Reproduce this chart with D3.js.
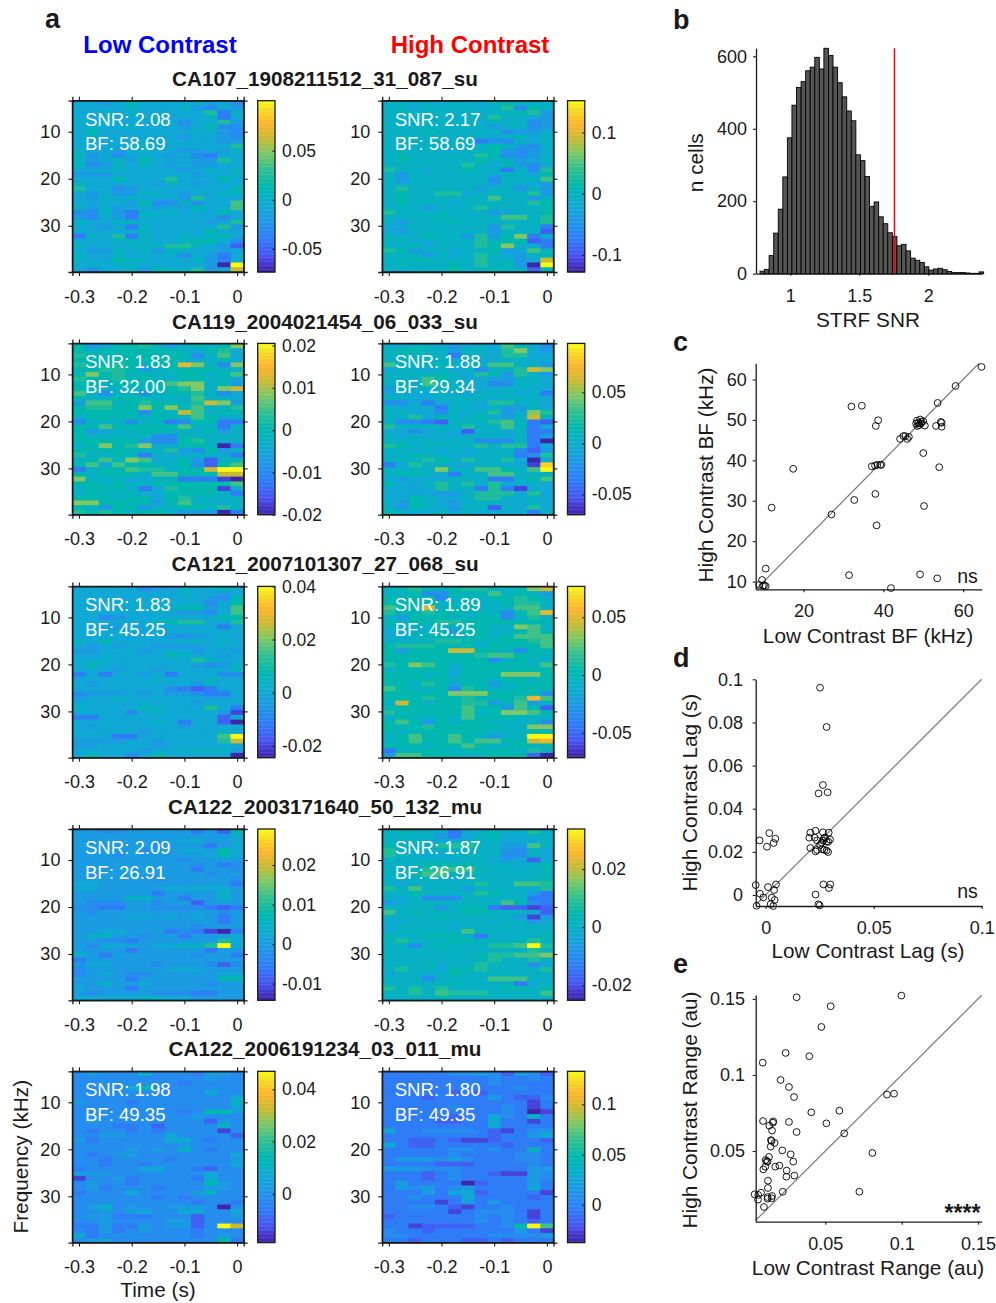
<!DOCTYPE html>
<html>
<head>
<meta charset="utf-8">
<script src="https://cdn.jsdelivr.net/npm/d3@7"></script>
<style>
  body { margin: 0; background: #fff; }
  svg { display: block; }
  text { font-family: "Liberation Sans", Arial, sans-serif; fill: #1a1a1a; }
  .axis path, .axis line { stroke: #1a1a1a; }
</style>
</head>
<body>
<div id="fig"></div>
<script>
    var width = 996,
        height = 1303;

    // STRF cells, one hex digit per cell, looked up in levelPos = position on that panel's colour range
    var levelPos = [0, 0.07, 0.13, 0.2, 0.26, 0.32, 0.38, 0.44, 0.5, 0.56, 0.62, 0.7, 0.78, 0.84, 0.93, 1];
    var strf1Low = ["6656866667564","6666766675465","6676766666937","6666666666736","7676666646695","6766766656844","6866666667654","6766666656654","6666666666655","6666676666669","7665676655657","7564666564366","7567586665596","7457676565566","6667666656767","5556666665667","6668666966686","7666665765666","9664566666668","6565577656677","6576766659666","666658447466a","757566565866a","4475377766686","5465376666646","7667766666569","6656376666695","6666676666866","3769376676786","6667776678864","7666777997652","6557675776656","7667666746536","7668776667536","676776666650f","646675877956c"];
    var strf1High = ["7777677678777","7767777679487","7877777777895","7777777797765","7777777677745","7777777757745","7778777774556","7777777767767","7777777344767","7777777787547","7777767785456","7877777984457","7877777877567","7777779768546","9776778773749","7577777767768","757777774777a","7677777757665","7977777577575","7877996777795","78777777a7757","7877767777798","7775777977778","9777777756778","777787777aa79","7577787777779","6677777759773","6577777757772","7778775958b36","7766777978823","778677798b763","98577677856a7","7775767976578","778877797756c","787778797850f","7677787787728"];
    var strf2Low = ["856889757878b","8788888876896","98888888847a6","8888888876786","98898788db74b","8899857888877","8b8978778878a","9889887788776","8878877abb785","877777889b7bc","a747747889746","877888777a776","5aa7898879cb5","89988b8b8a779","88888487ca788","788887887a867","4777477348833","88a88888a7737","8567788777857","8777774487777","8888854489767","78b89b6688703","8888877954857","9778737667763","78a7ba6785278","8a6a88778428a","3788a99788cff","878887aa888cc","b777667733310","887877888888a","7888736988816","7877766888873","8887886897777","bb888858a7767","8758857788797","9898788755503"];
    var strf2High = ["767765676a864","7887757769b65","7877737769966","7777766667766","a7778767aa775","67767674779cb","7777876985975","777a876655776","776a777644776","5777776667766","6666766777673","7766777767776","4463677699776","7666377675576","77664767956b9","77968778657c7","744327779a732","977777977a836","6646762776733","7676666776735","7777777444730","9877777979936","7767676777425","7787766777349","7779879779606","369776677661e","7777b77aa87af","78876377aa777","656667773378a","8667979696676","6666977393166","6666557999696","6687667997676","7587657776676","7587657727696","8766767666637"];
    var strf3Low = ["6666645576686","6666666676656","6666666666548","6666666666468","666666778856a","666666665546a","6645666666688","6666667899669","6655666666636","6666656666676","6666666545666","7686666677676","6565665555666","5566656665665","6666666876656","6676666669766","6866666665457","6665665666667","3636656366644","6666667666766","6566666665766","6666666432366","4555656554336","5667666666556","6666666665666","7666687666963","6666467666651","3366666666626","6666667636620","6566666656666","6666656666676","66633666666af","555566566669c","5566665666666","6666656677775","6866468666660"];
    var strf3High = ["78987899778bc","77844878a7875","8888478788987","8888778778997","a88c788777aa7","98898877748ad","7588877884797","8788998888888","7777778877ba7","66777588778a8","6678878878aaa","777799878889a","899988878888a","85888cc887488","88888889aa887","8888888847877","98ba87888887a","7888868888888","888786888bbb8","8888878878878","8879868857888","a877849877888","88888bbb88884","88898898889da","7c87889957a57","888888a885a82","988888a78bba8","787787a888777","8a85878877774","88898888877bb","8788888877788","78a88a87577ff","78a88a8aa88cd","888788a877878","3788878888797","5aa8887788820"];
    var strf4Low = ["5544555553528","5555555555556","5555555566556","5555554555356","5555545566586","5554555555686","5555555545555","5555555554534","5555555553554","5455555555455","5555554555554","6655555555553","6655555666665","5555553555575","5555775535575","5444554552555","4433554444323","5455555555545","5555665656535","5555555555535","5555555554555","5566555343103","5775545535556","5544355555596","54666566779f6","5555355555355","7535555554553","3555555555555","5665554555424","4555555666555","4565445555566","5555355555588","5575565555455","6555355555555","5455554443355","6666677665555"];
    var strf4High = ["7877636787797","7777536786677","7776666776667","87779997755a7","9777777775476","9776677774476","7777767765626","7778888777678","7779aaa877778","778aa77777777","7777767777778","7677777977aa9","97a7775777779","7787777987753","7674447777733","567777777a843","7777578832212","a787778877762","7777877777515","6677777767756","6777767777777","677777a777777","8778887376778","7977788777797","7747877799af9","7777777777797","7777777899aab","7777777797797","7778677977746","7977688977779","6776787777777","77747777aaa77","7777787777367","9797977778878","7797a9997777a","7777877777777"];
    var strf5Low = ["4544464443554","4444444444544","4444444434444","4444674444444","4444444444644","4444444444446","5444344444447","4444444444446","4444444434885","4444444445444","4544444444254","4443342444474","4344343444414","4455444644442","5344444664344","4444444454444","4444545474344","4345544444446","4434444344445","4434434444446","3444466443244","5554444444644","1445344443644","4544344444854","4534443444554","3444644445744","4444443434444","4444444443443","4574544555404","4454564466446","4553334442445","4454444552444","33533545524fc","4353454443444","6344444443454","4554444444483"];
    var strf5High = ["3333344542542","3333333343343","3333333343333","3333333333433","3333323233333","3332333353224","3333333333313","3333343334313","3333333334301","3333323364373","3333223363313","3333333363333","6334444321345","3333333323356","3322321123332","6322333332333","3333344343373","3333343333443","3555454333443","3333222333343","5554443333355","3332343321154","3332343333354","3533330233353","3545345333363","3335366233331","3343336333323","3333135353333","3344321334333","3333313444313","2333333434313","3333333434323","33122223348fa","4332333333531","4433333344445","3323332232333"];

    var unitNames = ["CA107_1908211512_31_087_su", "CA119_2004021454_06_033_su", "CA121_2007101307_27_068_su", "CA122_2003171640_50_132_mu", "CA122_2006191234_03_011_mu"];
    var snrLow = ["2.08", "1.83", "1.83", "2.09", "1.98"];
    var snrHigh = ["2.17", "1.88", "1.89", "1.87", "1.80"];
    var bfLow = ["58.69", "32.00", "45.25", "26.91", "49.35"];
    var bfHigh = ["58.69", "29.34", "45.25", "26.91", "49.35"];
    var rangeLow = [[-0.0735, 0.101], [-0.02, 0.0205], [-0.0245, 0.04], [-0.0142, 0.0291], [-0.0187, 0.0469]];
    var rangeHigh = [[-0.128, 0.152], [-0.07, 0.098], [-0.0716, 0.0767], [-0.0252, 0.0338], [-0.0376, 0.1327]];
    var barTicksLow = [[-0.05, 0, 0.05], [-0.02, -0.01, 0, 0.01, 0.02], [-0.02, 0, 0.02, 0.04], [-0.01, 0, 0.01, 0.02], [0, 0.02, 0.04]];
    var barTicksHigh = [[-0.1, 0, 0.1], [-0.05, 0, 0.05], [-0.05, 0, 0.05], [-0.02, 0, 0.02], [0, 0.05, 0.1]];
    var timeTicks = [-0.3, -0.2, -0.1, 0];
    var freqTicks = [10, 20, 30];

    var parulaStops = [0, 0.05, 0.1, 0.2, 0.3, 0.4, 0.5, 0.6, 0.7, 0.78, 0.87, 0.95, 1];
    var parulaColors = ["#3e26a8", "#4536cb", "#4856f3", "#2e7df7", "#1f97e6", "#0cacd0", "#00b8b0", "#30c090", "#80c864", "#c8ba34", "#feb52d", "#f6dc22", "#f9fb15"];

    // panel b
    var histCounts = [7, 12, 50, 112, 178, 267, 375, 465, 514, 530, 560, 570, 597, 565, 622, 602, 570, 527, 488, 449, 422, 328, 312, 268, 186, 198, 157, 138, 113, 103, 77, 81, 63, 43, 37, 31, 19, 10, 13, 15, 11, 6, 3, 3, 3, 2, 1, 1, 5];
    var histStart = 0.78,
        histBin = 0.0331,
        snrCutoff = 1.755;

    // panel c, kHz
    var bfLowPts = [64.6, 58.1, 53.6, 32.0, 34.6, 38.7, 38.1, 48.4, 48.8, 49.2, 49.6, 50.0, 48.5, 49.0, 50.4, 48.2, 49.4, 53.2, 54.6, 54.4, 54.6, 44.2, 45.0, 45.5, 46.0, 46.4, 50.0, 54.0, 37.1, 37.9, 38.5, 39.2, 39.5, 17.4, 38.0, 32.7, 50.2, 12.0, 27.0, 38.3, 10.5, 31.4, 49.2, 53.5, 41.9, 9.6, 8.9, 9.8, 10.5, 10.1];
    var bfHighPts = [63.1, 58.4, 54.2, 53.3, 53.5, 49.9, 48.5, 49.8, 49.3, 50.1, 49.5, 49.7, 48.5, 48.7, 48.6, 49.1, 49.1, 48.5, 49.3, 49.5, 48.3, 45.3, 46.0, 46.0, 45.3, 45.8, 41.8, 38.3, 38.5, 38.7, 38.9, 38.9, 38.9, 37.9, 31.7, 30.2, 28.7, 28.3, 26.6, 23.9, 13.2, 11.6, 11.8, 10.8, 8.4, 10.4, 9.2, 9.0, 8.9, 9.1];

    // panel d, s
    var lagLowPts = [0.0252, 0.0282, 0.0265, 0.0245, 0.0287, 0.0017, -0.0028, 0.0045, 0.0037, 0.0006, 0.0207, 0.0231, 0.0202, 0.0227, 0.0238, 0.0265, 0.0292, 0.0298, 0.0275, 0.0267, 0.0282, 0.0259, 0.029, 0.027, 0.0207, 0.0231, 0.0238, 0.0261, 0.0282, 0.0289, 0.0252, 0.0272, -0.0046, 0.0011, 0.0048, 0.0039, -0.0026, -0.0011, 0.0028, 0.0042, 0.0023, -0.0042, 0.0035, 0.0267, 0.0299, 0.0293, 0.0231, 0.0244, 0.025];
    var lagHighPts = [0.0961, 0.0779, 0.051, 0.0471, 0.0476, 0.0287, 0.0253, 0.0261, 0.0241, 0.0224, 0.0289, 0.0298, 0.0266, 0.0266, 0.0253, 0.0291, 0.0289, 0.0257, 0.0267, 0.0252, 0.0247, 0.0243, 0.0247, 0.0263, 0.0218, 0.0202, 0.0209, 0.0212, 0.0206, 0.0199, 0.0232, 0.0209, 0.0046, 0.0037, 0.0049, 0.0023, 0.0006, -0.0011, -0.0012, -0.0023, -0.0042, -0.005, -0.0051, 0.0049, 0.0049, 0.0032, 0.0002, -0.0043, -0.0048];

    // panel e, au
    var rngLowPts = [0.0998, 0.0312, 0.0535, 0.0474, 0.024, 0.0395, 0.009, 0.0207, 0.0262, 0.0295, 0.0904, 0.095, 0.0592, 0.0408, 0.0507, 0.0262, 0.0092, 0.0159, 0.0157, 0.0133, 0.0151, 0.0312, 0.0624, 0.0144, 0.0148, 0.0168, 0.0142, 0.0218, 0.0273, 0.0808, 0.0131, 0.0109, 0.0116, 0.0122, 0.029, 0.0107, 0.0094, 0.0172, 0.0199, 0.0247, 0.0245, 0.0297, 0.0124, 0.0124, 0.0221, 0.0723, 0.0079, 0.0037, 0.0061, 0.0059, 0.0122, 0.0122, 0.0148, 0.0151, 0.0098];
    var rngHighPts = [0.1522, 0.1511, 0.1452, 0.1316, 0.1145, 0.1123, 0.1081, 0.0967, 0.0921, 0.0855, 0.0871, 0.0877, 0.0765, 0.0754, 0.0682, 0.0691, 0.0697, 0.0695, 0.0686, 0.0667, 0.0634, 0.0625, 0.0616, 0.0572, 0.0566, 0.0553, 0.0529, 0.0504, 0.0478, 0.0487, 0.0461, 0.0441, 0.0432, 0.043, 0.043, 0.0397, 0.0379, 0.0397, 0.0404, 0.0371, 0.0331, 0.0338, 0.0305, 0.0257, 0.0232, 0.0232, 0.0226, 0.0215, 0.0211, 0.018, 0.0197, 0.0186, 0.0189, 0.0204, 0.0132];

    var strfLow = [strf1Low, strf2Low, strf3Low, strf4Low, strf5Low];
    var strfHigh = [strf1High, strf2High, strf3High, strf4High, strf5High];

    var svg = d3.select("#fig").append("svg")
      .attr("width", width)
      .attr("height", height);

    var parula = d3.scaleLinear()
      .domain(parulaStops)
      .range(parulaColors);

    var tickFont = 18,
        titleFont = 20.8;

    function label(x, y, str, size, opts) {
      opts = opts || {};
      var t = svg.append("text")
        .attr("x", x)
        .attr("y", y)
        .attr("font-size", size)
        .attr("text-anchor", opts.anchor || "middle")
        .attr("font-weight", opts.bold ? "bold" : "normal")
        .text(str);
      if (opts.fill) t.style("fill", opts.fill);
      if (opts.rotate) t.attr("transform", "rotate(-90," + x + "," + y + ")");
      return t;
    }

    function styleAxis(g, size) {
      g.attr("class", "axis").attr("font-size", size).attr("font-family", null);
      g.selectAll("path").attr("stroke-width", 1.3);
      g.selectAll("line").attr("stroke-width", 1.1);
      return g;
    }

    var boxW = 171.3,
        boxH = 171.3;

    function drawStrf(left, top, levels, range, barTicks, snr, bf) {
      var g = svg.append("g").attr("transform", "translate(" + left + "," + top + ")");

      var x = d3.scaleLinear().domain([-0.3125, 0.0125]).range([0, boxW]);
      var y = d3.scaleLinear().domain([3.4, 39.85]).range([0, boxH]);
      var col = d3.scaleBand().domain(d3.range(13)).range([0, boxW]);
      var row = d3.scaleBand().domain(d3.range(36)).range([0, boxH]);
      var val = d3.scaleLinear().domain([0, 1]).range(range);
      var norm = d3.scaleLinear().domain(range).range([0, 1]);

      levels.forEach(function(r, i) {
        g.selectAll(null)
          .data(r.split(""))
          .enter().append("rect")
          .attr("x", function(d, j) { return col(j); })
          .attr("y", row(i))
          // overlap the next cell by a pixel so no seams show, the last ones stop at the box
          .attr("width", function(d, j) { return j < 12 ? col.bandwidth() + 1 : col.bandwidth(); })
          .attr("height", i < 35 ? row.bandwidth() + 1 : row.bandwidth())
          .attr("fill", function(d) { return parula(norm(val(levelPos[parseInt(d, 16)]))); });
      });

      var fmt = function(d) { return String(d); };
      styleAxis(g.append("g").attr("transform", "translate(0," + boxH + ")")
        .call(d3.axisBottom(x).tickValues(timeTicks).tickSize(4).tickPadding(14).tickFormat(fmt)), tickFont);
      styleAxis(g.append("g")
        .call(d3.axisTop(x).tickValues(timeTicks).tickSize(4).tickFormat("")), tickFont);
      styleAxis(g.append("g")
        .call(d3.axisLeft(y).tickValues(freqTicks).tickSize(4).tickPadding(8).tickFormat(fmt)), tickFont);
      styleAxis(g.append("g").attr("transform", "translate(" + boxW + ",0)")
        .call(d3.axisRight(y).tickValues(freqTicks).tickSize(4).tickFormat("")), tickFont);

      g.append("rect")
        .attr("width", boxW).attr("height", boxH)
        .attr("fill", "none").attr("stroke", "#1a1a1a").attr("stroke-width", 1.3);

      g.append("text").attr("x", 12.5).attr("y", 25).attr("font-size", 18.6).style("fill", "#fff").text("SNR: " + snr);
      g.append("text").attr("x", 12.5).attr("y", 49.5).attr("font-size", 18.6).style("fill", "#fff").text("BF: " + bf);

      // colour bar
      var barX = boxW + 14,
          barW = 17.3;
      var bar = g.append("g").attr("transform", "translate(" + barX + ",0)");
      var barY = d3.scaleLinear().domain(range).range([boxH, 0]);
      var steps = d3.range(0, 128);
      bar.selectAll("rect")
        .data(steps)
        .enter().append("rect")
        .attr("x", 0)
        .attr("y", function(d) { return boxH * (127 - d) / 128; })
        .attr("width", barW)
        .attr("height", boxH / 128 + 0.4)
        .attr("fill", function(d) { return parula((d + 0.5) / 128); });
      bar.append("rect")
        .attr("width", barW).attr("height", boxH)
        .attr("fill", "none").attr("stroke", "#1a1a1a").attr("stroke-width", 1.3);
      var ba = bar.append("g").attr("transform", "translate(" + barW + ",0)")
        .call(d3.axisRight(barY).tickValues(barTicks).tickSize(-2.5).tickPadding(7).tickFormat(fmt));
      styleAxis(ba, 17.5);
      ba.select("path").remove();
    }

    var lefts = [72.4, 382.2],
        tops = [100.7, 343.4, 586.4, 829, 1071.3];

    unitNames.forEach(function(name, i) {
      label(325, 86 + i * 242.5, name, 20.7, { bold: true });
      drawStrf(lefts[0], tops[i], strfLow[i], rangeLow[i], barTicksLow[i], snrLow[i], bfLow[i]);
      drawStrf(lefts[1], tops[i], strfHigh[i], rangeHigh[i], barTicksHigh[i], snrHigh[i], bfHigh[i]);
    });

    label(160, 53, "Low Contrast", 24, { bold: true, fill: "#0000ff" });
    label(470, 53, "High Contrast", 24, { bold: true, fill: "#ff0000" });
    label(158, 1297, "Time (s)", titleFont);
    label(28, 1156.7, "Frequency (kHz)", titleFont, { rotate: true });

    label(45, 28, "a", 27, { bold: true, anchor: "start" });
    label(673, 29, "b", 27, { bold: true, anchor: "start" });
    label(673, 351, "c", 27, { bold: true, anchor: "start" });
    label(673, 667, "d", 27, { bold: true, anchor: "start" });
    label(673, 973, "e", 27, { bold: true, anchor: "start" });

    // panel b
    var hLeft = 756, hRight = 982, hTop = 48.3, hBot = 273.7;
    var hx = d3.scaleLinear().domain([0.751, 2.39]).range([hLeft, hRight]);
    var hy = d3.scaleLinear().domain([0, 622]).range([hBot, hTop]);

    svg.append("g").selectAll("rect")
      .data(histCounts)
      .enter().append("rect")
      .attr("x", function(d, i) { return hx(histStart + i * histBin); })
      .attr("y", function(d) { return hy(d); })
      .attr("width", hx(histBin) - hx(0))
      .attr("height", function(d) { return hBot - hy(d); })
      .attr("fill", "#555555")
      .attr("stroke", "#000")
      .attr("stroke-width", 0.9);

    svg.append("line")
      .attr("x1", hx(snrCutoff)).attr("x2", hx(snrCutoff))
      .attr("y1", hTop).attr("y2", hBot)
      .attr("stroke", "#ff0000").attr("stroke-width", 1.5);

    var fmtNum = function(d) { return String(d); };

    var hxa = svg.append("g").attr("transform", "translate(0," + hBot + ")")
      .call(d3.axisBottom(hx).tickValues([1, 1.5, 2]).tickSize(2).tickPadding(13.5).tickFormat(fmtNum).tickSizeOuter(0));
    styleAxis(hxa, tickFont);
    var hya = svg.append("g").attr("transform", "translate(" + hLeft + ",0)")
      .call(d3.axisLeft(hy).tickValues([0, 200, 400, 600]).tickSize(3).tickPadding(6).tickFormat(fmtNum).tickSizeOuter(0));
    styleAxis(hya, tickFont);

    label(868, 327, "STRF SNR", titleFont);
    label(703, 162.7, "n cells", titleFont, { rotate: true });

    // panels c, d, e
    function drawScatter(opts) {
      var sx = d3.scaleLinear().domain(opts.xDomain).range([755.7, 981.7]);
      var sy = d3.scaleLinear().domain(opts.yDomain).range([opts.bottom, opts.top]);

      svg.append("line")
        .attr("x1", sx(opts.diag[0])).attr("y1", sy(opts.diag[0]))
        .attr("x2", sx(opts.diag[1])).attr("y2", sy(opts.diag[1]))
        .attr("stroke", "#808080").attr("stroke-width", 1.3);

      styleAxis(svg.append("g").attr("transform", "translate(0," + opts.bottom + ")")
        .call(d3.axisBottom(sx).tickValues(opts.xTicks).tickSize(3).tickPadding(opts.xPad).tickFormat(fmtNum).tickSizeOuter(0)), tickFont);
      styleAxis(svg.append("g").attr("transform", "translate(755.7,0)")
        .call(d3.axisLeft(sy).tickValues(opts.yTicks).tickSize(3).tickPadding(opts.yPad).tickFormat(fmtNum).tickSizeOuter(0)), tickFont);

      svg.append("g").selectAll("circle")
        .data(opts.xs)
        .enter().append("circle")
        .attr("cx", function(d) { return sx(d); })
        .attr("cy", function(d, i) { return sy(opts.ys[i]); })
        .attr("r", 3.4)
        .attr("fill", "none")
        .attr("stroke", "#000")
        .attr("stroke-width", 0.9);

      label(868, opts.xLabelY, opts.xLabel, titleFont);
      label(opts.yLabelX, opts.yLabelY, opts.yLabel, titleFont, { rotate: true });
    }

    drawScatter({
      xDomain: [8, 64.65], yDomain: [8.1, 64], top: 363.3, bottom: 589.3,
      diag: [8.1, 64], xTicks: [20, 40, 60], yTicks: [10, 20, 30, 40, 50, 60], xPad: 12, yPad: 6,
      xs: bfLowPts, ys: bfHighPts, xLabel: "Low Contrast BF (kHz)", xLabelY: 643,
      yLabel: "High Contrast BF (kHz)", yLabelX: 713, yLabelY: 475
    });
    drawScatter({
      xDomain: [-0.0046, 0.1], yDomain: [-0.0051, 0.1], top: 679.3, bottom: 906,
      diag: [-0.0046, 0.1], xTicks: [0, 0.05, 0.1], yTicks: [0, 0.02, 0.04, 0.06, 0.08, 0.1], xPad: 12, yPad: 9.7,
      xs: lagLowPts, ys: lagHighPts, xLabel: "Low Contrast Lag (s)", xLabelY: 958,
      yLabel: "High Contrast Lag (s)", yLabelX: 697, yLabelY: 792.7
    });
    drawScatter({
      xDomain: [0.0044, 0.1524], yDomain: [0.0035, 0.1526], top: 995, bottom: 1221.7,
      diag: [0.0044, 0.1524], xTicks: [0.05, 0.1, 0.15], yTicks: [0.05, 0.1, 0.15], xPad: 12.5, yPad: 7.7,
      xs: rngLowPts, ys: rngHighPts, xLabel: "Low Contrast Range (au)", xLabelY: 1275,
      yLabel: "High Contrast Range (au)", yLabelX: 697, yLabelY: 1110
    });

    label(967.5, 583, "ns", 19.5);
    label(967.5, 898, "ns", 19.5);
    label(962.5, 1221, "****", 23, { bold: true });
</script>
</body>
</html>
